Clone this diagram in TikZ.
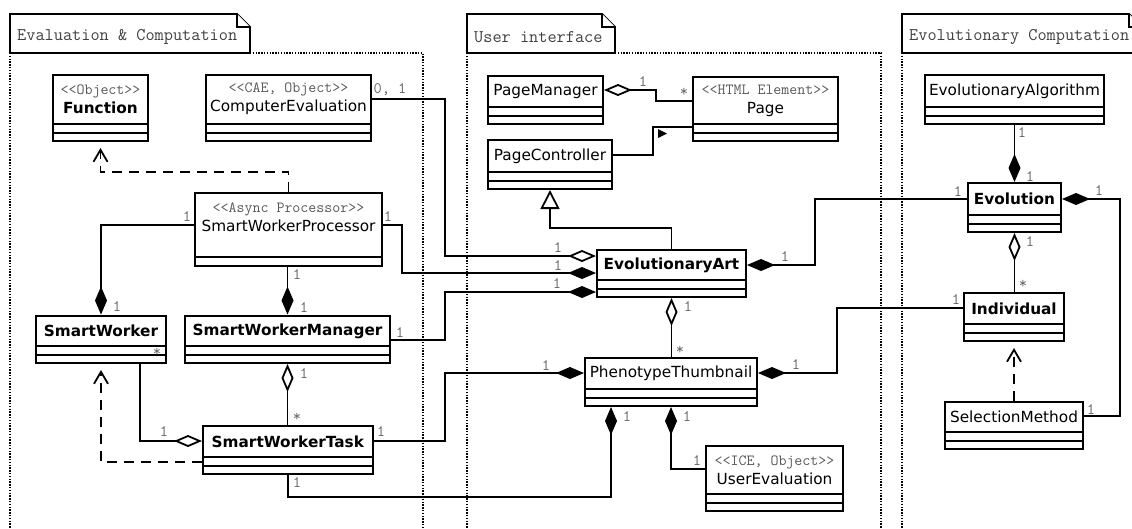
\documentclass[tikz,border=0pt]{standalone}
\usepackage{fontspec}
\setmainfont{DejaVu Sans}
\usetikzlibrary{arrows.meta,fit,positioning}

\definecolor{stereogray}{gray}{0.35}
\definecolor{multgray}{gray}{0.4}
\definecolor{pkggray}{gray}{0.25}

\newcommand{\stereo}[1]{{\color{stereogray}\ttfamily\fontsize{15.5}{19}\selectfont #1}}

\tikzset{
    classbox/.style={draw, line width=2pt, fill=white, inner sep=0pt},   % caja de clase
    classname/.style={font=\fontsize{15.3}{19}\selectfont, align=center, inner sep=0pt},
    mult/.style={font=\ttfamily\fontsize{16}{16}\selectfont, text=multgray, inner sep=0pt},
    link/.style={line width=1.8pt},
    comp/.style={link, {Diamond[length=28pt,width=12pt]}-},          % composicion
    aggr/.style={link, {Diamond[open,length=28pt,width=12pt]}-},     % agregacion
    gener/.style={link, -{Triangle[open,length=19pt,width=19pt]}},
    depend/.style={link, dash pattern=on 10pt off 7pt, shorten >=6pt,
        -{Straight Barb[length=12pt,width=14pt]}},
    pkgtab/.style={draw, line width=1.8pt, fill=white},
    pkglabel/.style={font=\ttfamily\fontsize{17.8}{17.8}\selectfont, text=pkggray, inner sep=0pt},
    pkgframe/.style={line width=2pt, dash pattern=on 1.4pt off 1.4pt}
}

% [compartimentos]{nombre}{x1}{y1}{x2}{division}{y del titulo}{titulo}
\newcommand{\umlclass}[8][2]{%
    \node[classbox, fit={(#3,#4) (#5,{#6+#1*8.5})}] (#2) {};
    \node[classname] (#2-t) at ({(#3+#5)/2},#7) {#8};
    \draw[classbox] (#3,#6) -- (#5,#6);
    \ifnum#1=2 \draw[classbox] (#3,#6+8.5) -- (#5,#6+8.5);\fi
}

% {nombre}{x1}{x2}{texto}
\newcommand{\pkgtab}[4]{%
    \draw[pkgtab] (#2,53) -- (#2,14) -- (#3-13,14) -- (#3,27) -- (#3,53) -- cycle;
    \draw[pkgtab] (#3-13,14) -- (#3-13,27) -- (#3,27);
    \node[pkglabel, anchor=west] (#1) at (#2+7,37) {#4};
}

\begin{document}
\begin{tikzpicture}[x=1pt, y=-1pt]
    \useasboundingbox (0,0) rectangle (1132,528);
    \clip (0,0) rectangle (1132,528);

    % paquetes
    \pkgtab{pkg-eval}{10}{250}{Evaluation \& Computation}
    \pkgtab{pkg-ui}{467}{615}{User interface}
    \pkgtab{pkg-evo}{902}{1142}{Evolutionary Computation}
    \draw[pkgframe] (10,53) -- (10,540) (250,53) -- (423,53) -- (423,540);
    \draw[pkgframe] (467,53) -- (467,540) (615,53) -- (881,53) -- (881,540);
    \draw[pkgframe] (902,53) -- (902,540);

    % Evaluation & Computation
    \umlclass{fn}{53}{75}{148}{124}{99}{\stereo{<<Object>>}\\\textbf{Function}}
    \umlclass{ce}{206}{75}{371}{124}{99}{\stereo{<<CAE, Object>>}\\ComputerEvaluation}
    \umlclass[1]{swp}{195}{193}{382}{257}{217}{\stereo{<<Async Processor>>}\\SmartWorkerProcessor}
    \umlclass{sw}{36}{315.5}{166}{346}{331}{\textbf{SmartWorker}}
    \umlclass{swm}{185}{315.5}{390}{346}{331}{\textbf{SmartWorkerManager}}
    \umlclass{swt}{203}{426}{373}{457}{441.5}{\textbf{SmartWorkerTask}}

    % User interface
    \umlclass{pm}{488}{76}{603}{107}{91.5}{PageManager}
    \umlclass{pc}{488}{140}{612}{172}{156}{PageController}
    \umlclass{page}{693}{77}{838}{124}{100.5}{\stereo{<<HTML Element>>}\\Page}
    \umlclass{ea}{597}{250}{746}{280}{265}{\textbf{EvolutionaryArt}}
    \umlclass{pt}{585}{358}{757}{389}{373.5}{PhenotypeThumbnail}
    \umlclass{ue}{706}{446}{843}{494}{470}{\stereo{<<ICE, Object>>}\\UserEvaluation}

    % Evolutionary Computation
    \umlclass{ealg}{925}{75}{1104}{107}{91}{EvolutionaryAlgorithm}
    \umlclass{evo}{968}{183}{1061}{215}{199}{\textbf{Evolution}}
    \umlclass{ind}{964}{293}{1064}{324}{308.5}{\textbf{Individual}}
    \umlclass{sm}{945}{402}{1083}{432}{417}{SelectionMethod}

    % relaciones
    \draw[depend] (swp.north) |- (fn.south |- 0,172) -- (fn.south);
    \draw[aggr] (ea.west |- 0,256) -| (445,99) -- (ce.east |- 0,99);
    \draw[comp] (ea.west |- 0,273) -| (402,225) -- (swp.east |- 0,225);
    \draw[comp] (ea.west |- 0,292) -| (445,340) -- (swm.east |- 0,340);
    \draw[gener] (ea.north) |- (pc.south |- 0,228) -- (pc.south);
    \draw[aggr] (pm.east |- 0,90) -| (656,101) -- (page.west |- 0,101);
    \draw[link] (pc.east |- 0,155) -| (653,127) -- (page.west |- 0,127);
    \fill (658,129) -- (667,133.5) -- (658,138) -- cycle;
    \draw[comp] (ea.east |- 0,265) -| (815,199) -- (evo.west |- 0,199);
    \draw[aggr] (ea.south) -- (pt.north -| ea.south);
    \draw[comp] (evo.north) -- (ealg.south -| evo.north);
    \draw[aggr] (evo.south) -- (ind.north -| evo.south);
    \draw[comp] (evo.east |- 0,199) -| (1120,416) -- (sm.east |- 0,416);
    \draw[depend] (sm.north) -- (ind.south -| sm.north);
    \draw[comp] (pt.east |- 0,373) -| (837,308) -- (ind.west |- 0,308);
    \draw[comp] (pt.west |- 0,373) -| (445,441) -- (swt.east |- 0,441);
    \draw[comp] (pt.south -| 611,0) |- (swt.south |- 0,497) -- (swt.south);
    \draw[comp] (pt.south) |- (ue.west |- 0,469);
    \draw[comp] (sw.north) |- (swp.west |- 0,225);
    \draw[comp] (swm.north) -- (swm.north |- swp.south);
    \draw[aggr] (swm.south) -- (swm.south |- swt.north);
    \draw[aggr] (swt.west |- 0,441) -| (sw.south -| 140,0);
    \draw[depend] (swt.west |- 0,462) -| (sw.south);

    % multiplicidades
    \node[mult] (ce-m1) at (390,90) {0, 1};
    \node[mult] (ce-m2) at (558,248) {1};
    \node[mult] (swp-m1) at (388,217) {1};
    \node[mult] (swp-m2) at (558,266) {1};
    \node[mult] (swm-m1) at (400,333) {1};
    \node[mult] (swm-m2) at (557,284) {1};
    \node[mult] (pm-m1) at (643,82) {1};
    \node[mult] (pm-m2) at (684,92) {*};
    \node[mult] (ea-m1) at (785,257) {1};
    \node[mult] (ea-m2) at (958,192) {1};
    \node[mult] (pt-m1) at (688,307) {1};
    \node[mult] (pt-m2) at (680,350) {*};
    \node[mult] (ealg-m1) at (1022,133) {1};
    \node[mult] (ealg-m2) at (1030,177) {1};
    \node[mult] (ind-m1) at (1030,242) {1};
    \node[mult] (ind-m2) at (1023,284) {*};
    \node[mult] (sm-m1) at (1099,191) {1};
    \node[mult] (sm-m2) at (1091,410) {1};
    \node[mult] (pti-m1) at (796,365) {1};
    \node[mult] (pti-m2) at (956,300) {1};
    \node[mult] (swt-m1) at (381,432) {1};
    \node[mult] (swt-m2) at (546,366) {1};
    \node[mult] (swtb-m1) at (297,483) {1};
    \node[mult] (swtb-m2) at (627,417) {1};
    \node[mult] (ue-m1) at (687,417) {1};
    \node[mult] (ue-m2) at (697,461) {1};
    \node[mult] (sw-m1) at (187,217) {1};
    \node[mult] (sw-m2) at (117,307) {1};
    \node[mult] (swpm-m1) at (297,275) {1};
    \node[mult] (swpm-m2) at (304,308) {1};
    \node[mult] (swmt-m1) at (304,374) {1};
    \node[mult] (swmt-m2) at (297,417) {*};
    \node[mult] (swsw-m1) at (164,432) {1};
    \node[mult] (swsw-m2) at (157,352) {*};
\end{tikzpicture}
\end{document}
